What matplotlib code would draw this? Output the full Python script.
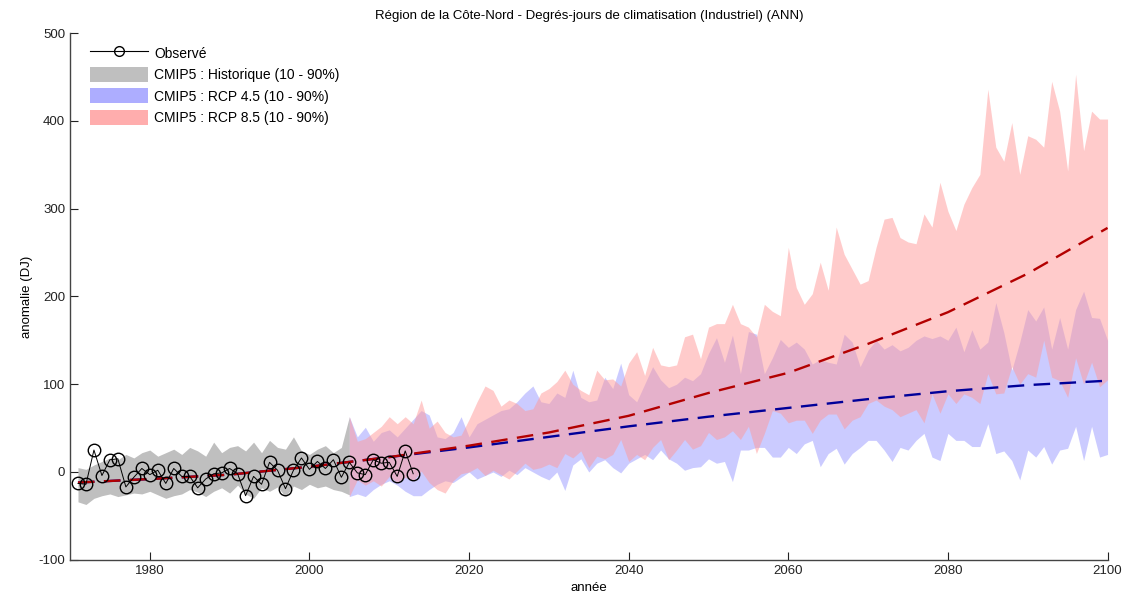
import numpy as np
import matplotlib
matplotlib.use("Agg")
import matplotlib.pyplot as plt
from matplotlib.patches import Patch
from matplotlib.lines import Line2D

plt.rcParams['font.family'] = ['Liberation Sans', 'DejaVu Sans']
plt.rcParams['axes.unicode_minus'] = False

# Observé (1971-2013)
obs_years = list(range(1971, 2014))
obs_vals = [-13, -14, 25, -4, 14, 15, -17, -6, 4, -3, 2, -13, 4, -5, -5, -18, -8, -2, -1, 4,
            -2, -27, -5, -14, 11, 2, -19, 2, 16, 3, 12, 4, 14, -6, 11, -1, -3, 14, 10, 11,
            -5, 24, -2]

# CMIP5 historique (1971-2005), 10e et 90e centiles
hist_years = list(range(1971, 2006))
hist_hi = [5, 3, 8, 12, 16, 14, 20, 16, 22, 25, 18, 22, 26, 20, 28, 24, 18, 34, 22, 28,
           30, 24, 34, 22, 36, 28, 26, 40, 24, 20, 26, 30, 22, 28, 63]
hist_lo = [-34, -37, -30, -27, -25, -28, -26, -24, -25, -22, -26, -30, -27, -25, -20, -23, -28, -22, -18, -24,
           -15, -25, -30, -18, -22, -17, -28, -16, -20, -14, -18, -16, -20, -22, -26]

# Scénarios (2005-2100)
rcp_years = list(range(2005, 2101))
rcp85_hi = [63, 35, 38, 45, 52, 63, 55, 63, 55, 82, 50, 58, 45, 40, 42, 60, 80, 98, 93, 75,
            82, 78, 70, 72, 90, 95, 103, 116, 100, 93, 88, 116, 105, 106, 98, 124, 137, 110, 142, 122,
            120, 122, 154, 157, 129, 165, 169, 169, 191, 169, 165, 154, 191, 183, 178, 256, 210, 191, 203, 239,
            207, 279, 248, 231, 214, 218, 256, 288, 290, 267, 262, 260, 294, 279, 330, 297, 275, 305, 324, 339,
            436, 370, 354, 398, 339, 383, 379, 370, 445, 411, 343, 453, 366, 411, 402, 402]
rcp85_lo = [-28, -9, -15, -10, -16, -5, -12, -6, -10, 1, -12, -20, -24, -10, -2, 0, 5, -4, 2, -3,
            -8, 1, 10, 3, 5, 9, 5, 21, 16, 24, 5, 18, 15, 20, 37, 12, 20, 14, 28, 37,
            14, 25, 37, 26, 30, 45, 37, 40, 47, 37, 52, 21, 44, 70, 67, 56, 59, 59, 44, 59,
            66, 66, 49, 59, 63, 78, 82, 75, 71, 63, 67, 71, 56, 89, 67, 89, 78, 89, 85, 78,
            112, 89, 90, 120, 100, 112, 108, 150, 108, 104, 85, 130, 100, 125, 97, 105]
rcp45_hi = [63, 40, 51, 35, 45, 48, 40, 50, 60, 70, 65, 40, 38, 45, 63, 40, 55, 60, 65, 70,
            72, 80, 90, 98, 80, 78, 90, 85, 116, 85, 80, 82, 108, 95, 124, 88, 80, 100, 120, 105,
            96, 100, 108, 104, 112, 135, 153, 125, 156, 112, 160, 157, 112, 130, 151, 142, 148, 140, 123, 128,
            125, 123, 157, 148, 120, 139, 150, 140, 145, 138, 142, 150, 155, 152, 155, 150, 165, 137, 162, 140,
            148, 193, 159, 116, 148, 185, 172, 188, 140, 176, 140, 185, 206, 176, 175, 150]
rcp45_lo = [-28, -25, -28, -20, -14, -10, -15, -22, -27, -27, -20, -14, -10, -12, -6, 0, -8, -4, 0, -5,
            2, -3, 5, 0, -5, -9, 0, -21, 8, 15, 0, 10, 14, 5, -1, 10, 15, 20, 14, 25,
            15, 10, 2, 5, 6, 15, 10, 12, -11, 25, 25, 28, 28, 17, 17, 28, 21, 32, 36, 6,
            21, 27, 9, 21, 28, 36, 36, 25, 12, 28, 25, 36, 44, 17, 13, 44, 36, 36, 29, 29,
            55, 21, 24, 13, -9, 25, 17, 29, 9, 25, 27, 52, 13, 52, 17, 20]

# Tendances (médianes lissées)
trend_years = [1971, 1980, 1990, 2000, 2010, 2020, 2030, 2040, 2050, 2060, 2070, 2080, 2090, 2100]
trend85 = [-12, -8, -3, 6, 17, 30, 45, 64, 90, 113, 146, 182, 226, 278]
trend45 = [-12, -8, -3, 6, 17, 28, 40, 52, 63, 73, 83, 92, 99, 104]

fig = plt.figure(figsize=(11.29, 6.0), dpi=100)
ax = fig.add_axes([0.062, 0.067, 0.919, 0.878])

gray = (0.75, 0.75, 0.75)
blue = (0.6, 0.6, 1.0)
red = (1.0, 0.6, 0.6)

ax.fill_between(hist_years, hist_lo, hist_hi, color=gray, lw=0, zorder=1)
ax.fill_between(rcp_years, rcp45_lo, rcp45_hi, color=blue, alpha=0.5, lw=0, zorder=2)
ax.fill_between(rcp_years, rcp85_lo, rcp85_hi, color=red, alpha=0.5, lw=0, zorder=3)

ax.plot(trend_years, trend45, color=(0.0, 0.0, 0.6), lw=1.7, dashes=(7, 4), zorder=4)
ax.plot(trend_years, trend85, color=(0.7, 0.0, 0.0), lw=1.7, dashes=(7, 4), zorder=5)

ax.plot(obs_years, obs_vals, color='black', lw=0.7, marker='o', ms=9,
        mfc='none', mec='black', mew=1.0, zorder=6)

ax.set_xlim(1970, 2100)
ax.set_ylim(-100, 500)
ax.set_xticks(range(1980, 2101, 20))
ax.set_yticks(range(-100, 501, 100))
ax.tick_params(direction='in', length=6, labelsize=9.5, colors='#222222')
for s in ['top', 'right']:
    ax.spines[s].set_visible(False)
for s in ['left', 'bottom']:
    ax.spines[s].set_color('#444444')
    ax.spines[s].set_linewidth(1.0)

ax.set_title("Région de la Côte-Nord - Degrés-jours de climatisation (Industriel) (ANN)",
             fontsize=9.5, pad=10)
ax.set_xlabel("année", fontsize=9.5, labelpad=4)
ax.set_ylabel("anomalie (DJ)", fontsize=9.5, labelpad=4)

handles = [
    Line2D([], [], color='black', lw=0.8, marker='o', ms=7, mfc='none', mec='black'),
    Patch(facecolor=gray, edgecolor='none'),
    Patch(facecolor=(0.68, 0.68, 1.0), edgecolor='none'),
    Patch(facecolor=(1.0, 0.68, 0.68), edgecolor='none'),
]
labels = ["Observé", "CMIP5 : Historique (10 - 90%)", "CMIP5 : RCP 4.5 (10 - 90%)",
          "CMIP5 : RCP 8.5 (10 - 90%)"]
ax.legend(handles, labels, loc='upper left', bbox_to_anchor=(0.01, 0.995), frameon=False,
          fontsize=10, handlelength=4.2, handleheight=1.3, handletextpad=0.4,
          labelspacing=0.45, borderaxespad=0.3)

fig.savefig("out.png", dpi=100)
